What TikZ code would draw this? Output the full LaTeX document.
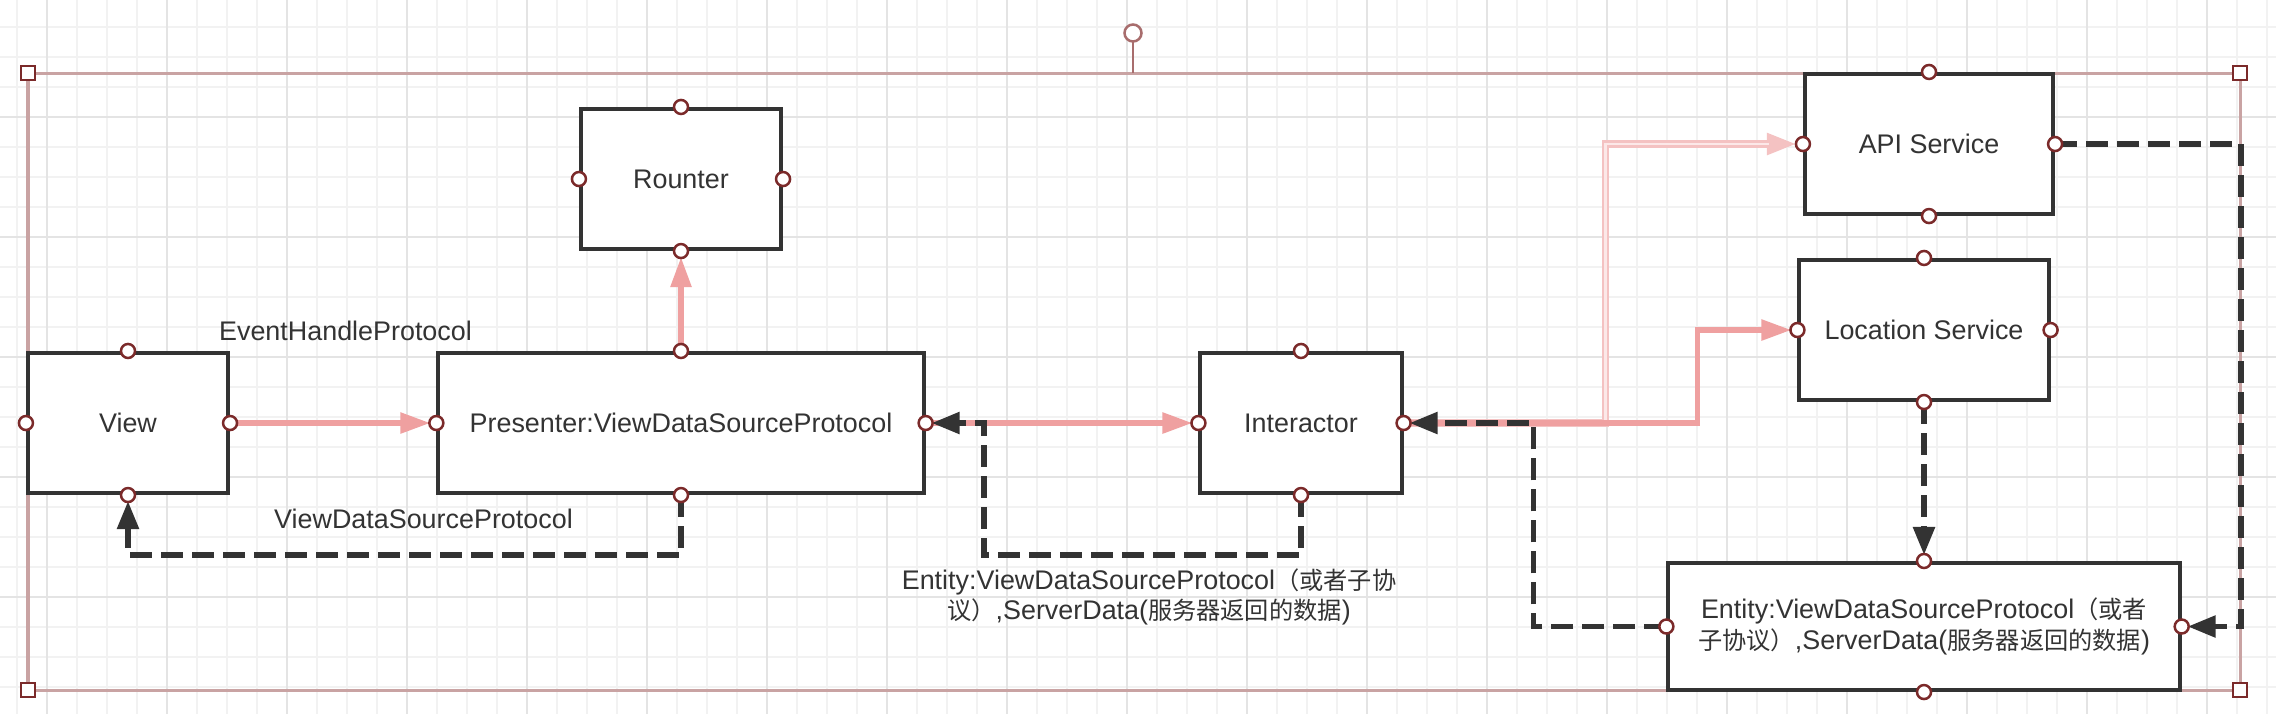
\documentclass[tikz,border=0pt]{standalone}
\usepackage{fontspec}
\setmainfont{Liberation Sans}
\newfontfamily\cjk{Noto Sans CJK SC}[Scale=0.9]
\usetikzlibrary{arrows.meta}

\definecolor{boxline}{HTML}{333333}
\definecolor{linkpink}{HTML}{EFA0A0}
\definecolor{lightpink}{HTML}{F4C2C2}
\definecolor{lightcore}{HTML}{FCE8E8}
\definecolor{portred}{HTML}{7B2A2A}
\definecolor{framerose}{HTML}{C9A3A3}
\definecolor{handlerose}{HTML}{A86D6D}
\definecolor{gridminor}{HTML}{F2F2F2}
\definecolor{gridmajor}{HTML}{E4E4E4}

\begin{document}
\begin{tikzpicture}
  [x=0.01cm,y=-0.01cm,
   font=\fontsize{7.65pt}{8.7pt}\selectfont,
   box/.style={draw=boxline,line width=0.04cm,fill=white,text=boxline,
               inner sep=0pt,align=center,minimum height=1.4cm},
   lbl/.style={text=boxline,inner sep=0pt,align=center},
   port/.style={draw=portred,fill=white,line width=0.025cm},
   handle/.style={draw=portred,fill=white,line width=0.025cm},
   pinkarrow/.style={draw=linkpink,line width=0.055cm,
                     -{Triangle[length=0.3cm,width=0.2cm]},shorten >=0.06cm},
   lightarrow/.style={draw=lightpink,line width=0.075cm,
                      -{Triangle[length=0.3cm,width=0.2cm]},shorten >=0.06cm},
   corelink/.style={draw=lightcore,line width=0.025cm,shorten >=0.34cm},
   dashline/.style={draw=boxline,line width=0.055cm,dash pattern=on 0.22cm off 0.09cm,
                    -{Triangle[length=0.28cm,width=0.21cm]},shorten >=0.06cm}]

  \useasboundingbox (0,0) rectangle (2276,714);
  \fill[white] (0,0) rectangle (2276,714);

  % canvas grid
  \foreach \gx in {16.7,46.7,...,2276} \draw[gridminor,line width=0.02cm] (\gx,0) -- (\gx,714);
  \foreach \gy in {26.7,56.7,...,714} \draw[gridminor,line width=0.02cm] (0,\gy) -- (2276,\gy);
  \foreach \gx in {46.7,166.7,...,2276} \draw[gridmajor,line width=0.02cm] (\gx,0) -- (\gx,714);
  \foreach \gy in {116.7,236.7,...,714} \draw[gridmajor,line width=0.02cm] (0,\gy) -- (2276,\gy);

  % selection frame
  \draw[framerose,line width=0.03cm] (28,73) rectangle (2240,690);
  \draw[handlerose,line width=0.025cm] (1133,73) -- (1133,41.5);
  \filldraw[draw=handlerose,fill=white,line width=0.025cm] (1133,33) circle (0.085cm);

  \node[box,minimum width=2cm] (view) at (128,423) {View};
  \node[box,minimum width=4.85cm] (presenter) at (681,423) {Presenter:ViewDataSourceProtocol};
  \node[box,minimum width=2cm] (rounter) at (681,179) {Rounter};
  \node[box,minimum width=2.01cm] (interactor) at (1301,423) {Interactor};
  \node[box,minimum width=2.48cm] (api) at (1929,144) {API Service};
  \node[box,minimum width=2.49cm] (location) at (1924,330) {Location Service};
  \node[box,minimum width=5.11cm,minimum height=1.27cm] (entity) at (1924,626.5)
    {Entity:ViewDataSourceProtocol{\cjk （或者}\\{\cjk 子协议）},ServerData({\cjk 服务器返回的数据})};

  \node[lbl] (eventlbl) at (345.5,331) {EventHandleProtocol};
  \node[lbl] (sourcelbl) at (423.5,519) {ViewDataSourceProtocol};
  \node[lbl] (entitylbl) at (1149,597)
    {Entity:ViewDataSourceProtocol{\cjk （或者子协}\\{\cjk 议）},ServerData({\cjk 服务器返回的数据})};

  % calls
  \foreach \from/\to in {view.east/presenter.west, presenter.north/rounter.south,
                         presenter.east/interactor.west}
    \draw[pinkarrow] (\from) -- (\to);
  \draw[lightarrow] (interactor.east) -- ++(202,0) |- (api.west);
  \draw[corelink] (interactor.east) -- ++(202,0) |- (api.west);
  \draw[pinkarrow] (interactor.east) -- ++(294,0) |- (location.west);

  % data going back
  \draw[dashline] (presenter.south) -- ++(0,60) -| (view.south);
  \draw[dashline] (interactor.south) -- ++(0,60) -- ++(-317,0) |- (presenter.east);
  \draw[dashline] (location.south) -- (location.south |- entity.north);
  \draw[dashline] (api.east) -- ++(186,0) |- (entity.east);
  \draw[dashline] (entity.west) -- ++(-133,0) |- (interactor.east);

  \foreach \n in {view,presenter,rounter,interactor,api,location,entity}
    \foreach \a in {north,south,east,west}
      \filldraw[port] (\n.\a) circle (0.07cm);
  \foreach \hx/\hy in {28/73,2240/73,28/690,2240/690}
    \filldraw[handle] (\hx,\hy) ++(-7,-7) rectangle ++(14,14);
\end{tikzpicture}
\end{document}
